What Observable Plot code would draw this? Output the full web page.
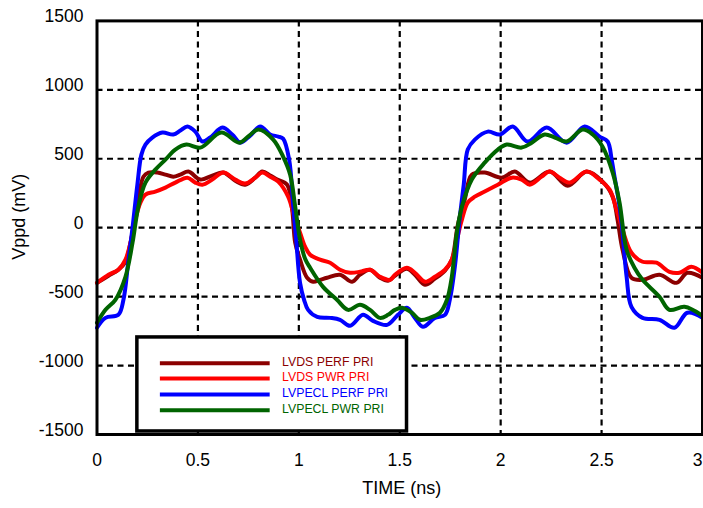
<!DOCTYPE html>
<html>
<head>
<meta charset="utf-8">
<script src="https://cdn.jsdelivr.net/npm/d3@7"></script>
<script src="https://cdn.jsdelivr.net/npm/@observablehq/plot@0.6"></script>
<style>
  html, body { margin: 0; padding: 0; background: #fff; }
  svg { display: block; }
</style>
</head>
<body>
<div id="chart"></div>
<script>
// ---- Data (time in ns, amplitude in mV) ----
const seriesNames = ["LVDS PERF PRI", "LVDS PWR PRI", "LVPECL PERF PRI", "LVPECL PWR PRI"];
const seriesColors = ["#8b0000", "#ff0000", "#0000ff", "#006400"];

const lvdsPerfTime = [0, 0.057, 0.106, 0.141, 0.166, 0.200, 0.230, 0.255, 0.299, 0.339, 0.378, 0.413, 0.453, 0.512, 0.571, 0.626, 0.685, 0.734, 0.784, 0.819, 0.858, 0.893, 0.942, 0.967, 0.982, 1.006, 1.041, 1.071, 1.105, 1.140, 1.204, 1.264, 1.303, 1.353, 1.402, 1.442, 1.476, 1.535, 1.575, 1.625, 1.674, 1.724, 1.758, 1.788, 1.822, 1.857, 1.921, 2.005, 2.070, 2.144, 2.243, 2.332, 2.426, 2.505, 2.555, 2.579, 2.604, 2.648, 2.703, 2.787, 2.871, 2.925, 3.0];
const lvdsPerfMv = [-400, -349, -305, -247, -109, 167, 370, 400, 400, 385, 370, 385, 407, 349, 378, 400, 341, 312, 363, 407, 378, 349, 312, 131, -109, -232, -363, -392, -378, -363, -341, -392, -341, -305, -363, -385, -349, -298, -341, -414, -370, -312, -232, 22, 203, 385, 400, 363, 407, 327, 407, 305, 407, 334, 225, 58, -160, -363, -378, -341, -400, -327, -363];

const lvdsPwrTime = [0, 0.057, 0.106, 0.141, 0.166, 0.190, 0.215, 0.240, 0.289, 0.339, 0.388, 0.448, 0.487, 0.522, 0.571, 0.626, 0.685, 0.734, 0.784, 0.819, 0.858, 0.898, 0.947, 0.982, 1.006, 1.031, 1.056, 1.105, 1.155, 1.204, 1.254, 1.303, 1.353, 1.402, 1.452, 1.476, 1.535, 1.575, 1.625, 1.674, 1.724, 1.758, 1.783, 1.808, 1.837, 1.872, 1.921, 1.986, 2.055, 2.104, 2.144, 2.203, 2.243, 2.292, 2.342, 2.426, 2.490, 2.540, 2.574, 2.604, 2.648, 2.703, 2.772, 2.836, 2.886, 2.945, 3.0];
const lvdsPwrMv = [-400, -341, -305, -232, -109, 58, 182, 240, 262, 291, 327, 363, 327, 312, 349, 400, 349, 320, 363, 400, 370, 334, 225, 58, -36, -138, -196, -232, -254, -305, -327, -320, -305, -356, -378, -341, -291, -327, -392, -356, -305, -232, -87, 58, 182, 225, 262, 312, 363, 349, 312, 370, 407, 363, 327, 407, 349, 276, 131, -15, -182, -247, -254, -320, -327, -283, -327];

const lvpeclPerfTime = [0, 0.042, 0.106, 0.131, 0.156, 0.176, 0.200, 0.220, 0.240, 0.274, 0.324, 0.378, 0.413, 0.448, 0.487, 0.522, 0.561, 0.621, 0.670, 0.710, 0.759, 0.809, 0.858, 0.898, 0.922, 0.952, 0.972, 0.987, 1.006, 1.026, 1.046, 1.091, 1.155, 1.204, 1.254, 1.318, 1.367, 1.437, 1.491, 1.535, 1.575, 1.615, 1.674, 1.724, 1.748, 1.773, 1.798, 1.817, 1.837, 1.872, 1.936, 1.996, 2.060, 2.134, 2.228, 2.327, 2.416, 2.490, 2.530, 2.550, 2.564, 2.584, 2.599, 2.624, 2.648, 2.703, 2.787, 2.861, 2.925, 3.0];
const lvpeclPerfMv = [-726, -654, -632, -523, -232, 0, 312, 530, 603, 654, 690, 676, 705, 734, 697, 625, 654, 726, 676, 617, 668, 734, 676, 661, 646, 494, 160, -87, -400, -523, -596, -647, -654, -668, -712, -632, -676, -705, -632, -581, -654, -719, -654, -632, -523, -283, 80, 312, 567, 639, 697, 676, 734, 625, 726, 617, 734, 661, 625, 494, 370, 203, 36, -356, -574, -654, -668, -726, -617, -654];

const lvpeclPwrTime = [0, 0.042, 0.091, 0.141, 0.176, 0.205, 0.240, 0.289, 0.339, 0.388, 0.443, 0.512, 0.616, 0.705, 0.754, 0.799, 0.873, 0.922, 0.957, 0.982, 1.006, 1.031, 1.056, 1.120, 1.189, 1.244, 1.303, 1.353, 1.402, 1.442, 1.476, 1.511, 1.560, 1.600, 1.649, 1.699, 1.734, 1.758, 1.783, 1.808, 1.857, 1.921, 1.986, 2.030, 2.104, 2.154, 2.218, 2.268, 2.327, 2.406, 2.456, 2.505, 2.555, 2.589, 2.624, 2.663, 2.703, 2.787, 2.836, 2.911, 3.0];
const lvpeclPwrMv = [-690, -596, -523, -356, -109, 153, 327, 421, 494, 567, 603, 581, 690, 617, 668, 712, 639, 516, 385, 153, -87, -225, -291, -429, -523, -596, -559, -596, -654, -632, -596, -581, -617, -668, -654, -617, -523, -356, -36, 153, 349, 472, 567, 603, 581, 617, 676, 654, 625, 712, 676, 588, 400, 182, -160, -291, -378, -501, -596, -574, -639];

const xTicks = [0, 0.5, 1, 1.5, 2, 2.5, 3];
const xTickLabels = ["0", "0.5", "1", "1.5", "2", "2.5", "3"];
const yTicks = [-1500, -1000, -500, 0, 500, 1000, 1500];
const yTickLabels = ["-1500", "-1000", "-500", "0", "500", "1000", "1500"];
const xGrid = [0.5, 1, 1.5, 2, 2.5];
const yGrid = [-1000, -500, 0, 500, 1000];

// ---- Build table ----
const seriesTimes = [lvdsPerfTime, lvdsPwrTime, lvpeclPerfTime, lvpeclPwrTime];
const seriesValues = [lvdsPerfMv, lvdsPwrMv, lvpeclPerfMv, lvpeclPwrMv];
const rows = [];
seriesNames.forEach((name, s) => {
  const ts = seriesTimes[s], vs = seriesValues[s];
  const n = Math.min(ts.length, vs.length);
  for (let i = 0; i < n; i++) rows.push({ series: name, t: ts[i], mv: vs[i] });
});

// legend layout (in data coordinates of the frame)
const legendRowMv = [-984, -1093, -1209, -1325];
const legendRows = seriesNames.map((name, i) => ({ series: name, mv: legendRowMv[i] }));

const font = "'Liberation Sans', Arial, Helvetica, sans-serif";
const fmtX = d => xTickLabels[xTicks.indexOf(d)];
const fmtY = d => yTickLabels[yTicks.indexOf(d)];

const chart = Plot.plot({
  width: 703,
  height: 508,
  marginLeft: 96.5,
  marginRight: 1,
  marginTop: 20.4,
  marginBottom: 74,
  style: { fontFamily: font, background: "white", color: "black" },
  x: { domain: [0, 3] },
  y: { domain: [-1500, 1500] },
  color: { domain: seriesNames, range: seriesColors },
  marks: [
    Plot.ruleX(xGrid, { stroke: "black", strokeWidth: 2.2, strokeDasharray: "6,4.5" }),
    Plot.ruleY(yGrid, { stroke: "black", strokeWidth: 2.2, strokeDasharray: "6,4.5" }),
    Plot.line(rows, { x: "t", y: "mv", z: "series", stroke: "series", strokeWidth: 4, curve: "catmull-rom", strokeLinejoin: "round" }),
    // legend
    Plot.rect([0], { x1: 0.2, x2: 1.536, y1: -1478, y2: -796, fill: "white", stroke: "black", strokeWidth: 3.5 }),
    Plot.ruleY(legendRows, { y: "mv", x1: 0.314, x2: 0.858, stroke: "series", strokeWidth: 4 }),
    Plot.text(legendRows, { y: "mv", x: 0.917, text: "series", fill: "series", textAnchor: "start", fontSize: 12.3, dy: -1.5 }),
    Plot.frame({ stroke: "black", strokeWidth: 3 }),
    Plot.axisX(xTicks.slice(0, -1), { tickSize: 0, tickPadding: 19, fontSize: 17.5, label: null, tickFormat: fmtX }),
    Plot.axisX(xTicks.slice(-1), { tickSize: 0, tickPadding: 19, fontSize: 17.5, label: null, dx: -5, tickFormat: fmtX }),
    Plot.axisY(yTicks, { tickSize: 0, tickPadding: 13.5, fontSize: 17.5, dy: -4.5, label: null, tickFormat: fmtY }),
    Plot.text(["TIME (ns)"], { frameAnchor: "bottom", dy: 59.5, dx: 2, fontSize: 18, text: d => d }),
    Plot.text(["Vppd (mV)"], { frameAnchor: "left", textAnchor: "middle", rotate: -90, dx: -77.5, dy: -11, fontSize: 18, text: d => d })
  ]
});

document.getElementById("chart").appendChild(chart);
</script>
</body>
</html>
